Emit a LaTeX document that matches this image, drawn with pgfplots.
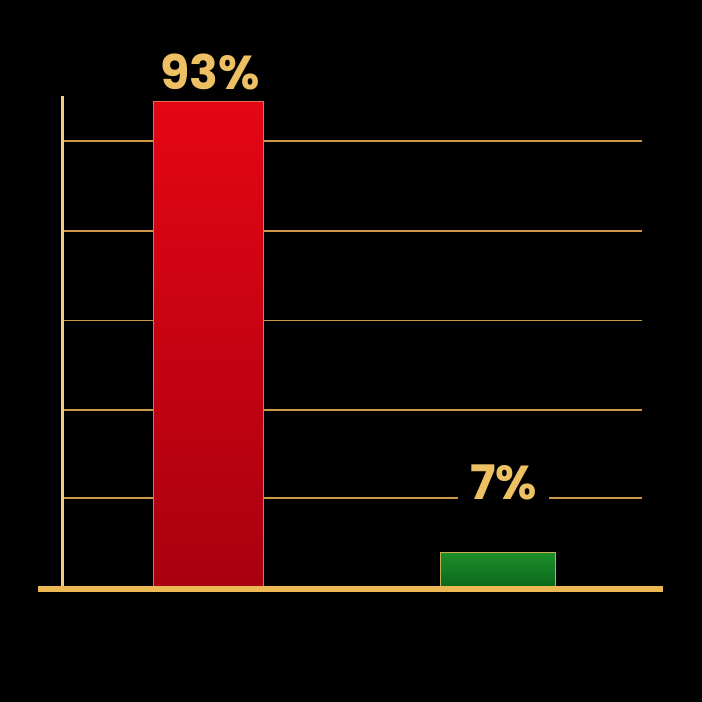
\documentclass[border=0pt]{standalone}
\usepackage{fontspec}
\setmainfont{Poppins}
\usepackage{pgfplots}
\pgfplotsset{compat=1.18}

\definecolor{gold}{RGB}{238,192,100}
\definecolor{axisgold}{RGB}{236,184,84}
\definecolor{ygold}{RGB}{240,204,128}
\definecolor{gridgold}{RGB}{204,152,72}
\definecolor{redtop}{RGB}{228,6,20}
\definecolor{redbot}{RGB}{168,0,16}
\definecolor{greentop}{RGB}{30,142,42}
\definecolor{greenbot}{RGB}{8,102,26}

\begin{document}
\begin{tikzpicture}
% 1 px of the reference = 0.5pt
\fill[black] (0,0) rectangle (351pt,351pt);
\useasboundingbox (0,0) rectangle (351pt,351pt);
\begin{axis}[
    at={(19pt,56.5pt)}, anchor=south west,
    scale only axis,
    width=312.5pt, height=246.5pt,
    xmin=38, xmax=663,
    ymin=0, ymax=94,
    axis lines=none,
    clip=false,
    /pgf/number format/assume math mode=true,
    nodes near coords={\pgfmathprintnumber{\pgfplotspointmeta}\%},
    every node near coord/.append style={font=\fontsize{23.8}{25}\selectfont\bfseries,
        text=gold, anchor=south, inner sep=0pt},
]
% gridlines
\draw[gridgold, line width=0.9pt] (axis cs:62,17.4) -- (axis cs:642,17.4);
\draw[gridgold, line width=0.9pt] (axis cs:62,34.2) -- (axis cs:642,34.2);
\draw[gridgold, line width=0.9pt] (axis cs:62,51.2) -- (axis cs:642,51.2);
\draw[gridgold, line width=0.9pt] (axis cs:62,68.2) -- (axis cs:642,68.2);
\draw[gridgold, line width=0.9pt] (axis cs:62,85.4) -- (axis cs:642,85.4);
% y axis
\draw[ygold, line width=1.5pt] (axis cs:62,0) -- (axis cs:62,94);

\addplot[ybar, bar width=55pt, bar shift=0pt, draw={rgb,255:red,225;green,110;blue,80}, line width=0.4pt,
    top color=redtop, bottom color=redbot,
    every node near coord/.append style={yshift=5.3pt, xshift=1pt}]
    coordinates {(208.3,93)};
\addplot[ybar, bar width=57.5pt, bar shift=0pt, draw={rgb,255:red,200;green,170;blue,80}, line width=0.4pt,
    top color=greentop, bottom color=greenbot,
    every node near coord/.append style={yshift=25.8pt, xshift=2.6pt,
        fill=black, inner xsep=6pt}]
    coordinates {(498.3,7)};

% x axis
\draw[axisgold, line width=2.6pt] (axis cs:38,0) -- (axis cs:663,0);
\end{axis}
\end{tikzpicture}
\end{document}
